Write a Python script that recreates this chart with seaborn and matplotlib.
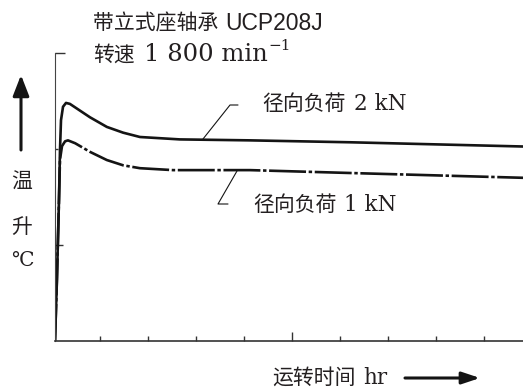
import numpy as np
import pandas as pd
import matplotlib
matplotlib.use("Agg")
import matplotlib.pyplot as plt
from matplotlib.transforms import Affine2D
from matplotlib.lines import Line2D
from matplotlib.patches import FancyArrowPatch
import seaborn as sns

# ---- data ----
t_2kn = [0, 0.04, 0.083, 0.104, 0.125, 0.167, 0.229, 0.31, 0.52, 0.73, 1.08, 1.42, 1.77, 2.6, 4.06, 6.15, 9.75]
v_2kn = [0, 0.64, 1.47, 1.99, 2.30, 2.44, 2.48, 2.47, 2.40, 2.33, 2.23, 2.17, 2.125, 2.10, 2.09, 2.07, 2.026]
t_1kn = [0, 0.04, 0.083, 0.104, 0.146, 0.21, 0.27, 0.42, 0.73, 1.08, 1.42, 1.77, 2.46, 4.06, 6.15, 9.75]
v_1kn = [0, 0.64, 1.47, 1.89, 2.03, 2.08, 2.09, 2.06, 1.97, 1.885, 1.83, 1.80, 1.78, 1.78, 1.75, 1.70]
series_names = ["径向负荷 2 kN", "径向负荷 1 kN"]
x_ticks = [0.94 + i for i in range(9)]
y_ticks = [1, 2, 3]

df = pd.DataFrame({
    "t": t_2kn + t_1kn,
    "v": v_2kn + v_1kn,
    "s": [series_names[0]] * len(t_2kn) + [series_names[1]] * len(t_1kn),
})

sns.set_style("white")
CJK = ["Noto Sans CJK SC", "DejaVu Sans"]
SERIF = ["DejaVu Serif"]
SANS = ["Liberation Sans"]
plt.rcParams["font.family"] = CJK
TC = "#231f20"
LC = "#141414"

W, H = 523, 388
fig = plt.figure(figsize=(W / 100, H / 100), dpi=100)
ax = fig.add_axes([55 / W, (H - 341) / H, 468 / W, 288 / H])

sns.lineplot(data=df, x="t", y="v", style="s", estimator=None, sort=False,
             dashes={series_names[0]: "", series_names[1]: (14, 1.0, 1.3, 1.0)},
             color=LC, lw=1.9, legend=False, ax=ax)

ax.set_xlim(0, 9.75)
ax.set_ylim(0, 3)
ax.set_xticks(x_ticks)
ax.set_yticks(y_ticks)
ax.set_xticklabels([])
ax.set_yticklabels([])
ax.set_xlabel("")
ax.set_ylabel("")
ax.tick_params(axis="both", which="major", direction="in", bottom=True, left=True,
               top=False, right=False, color="#333333", width=1.0, length=3.6)
ax.xaxis.get_major_ticks()[4].tick1line.set_markersize(6.5)
yt = ax.yaxis.get_major_ticks()
yt[0].tick1line.set_markersize(6.0)
yt[1].tick1line.set_markersize(2.0)
yt[2].tick1line.set_markersize(7.5)
for s in ["top", "right"]:
    ax.spines[s].set_visible(False)
ax.spines["left"].set_linewidth(0.8)
ax.spines["left"].set_color("#444444")
ax.spines["bottom"].set_linewidth(1.2)
ax.spines["bottom"].set_color("#333333")
ax.patch.set_alpha(0)

# image-pixel transform (origin top-left)
tr = Affine2D().scale(1, -1).translate(0, H)
renderer = fig.canvas.get_renderer()


def txt(x, y, s, fam=CJK, size=15, **kw):
    return fig.text(x, y, s, transform=tr, family=fam, fontsize=size, color=TC,
                    ha=kw.pop("ha", "left"), va=kw.pop("va", "baseline"), **kw)


def row(x, y, pieces):
    """pieces: (text, family, size, gap_before_px, raise_px)"""
    for s, fam, size, gap, rise in pieces:
        x += gap
        t = txt(x, y - rise, s, fam=fam, size=size)
        x = t.get_window_extent(renderer).x1
    return x


# title
row(93, 30, [("带立式座轴承", CJK, 15, 0, 0), ("UCP208J", SANS, 16.5, 7, 0)])
row(93, 61, [("转速", CJK, 15, 0, 0), ("1 800 min", SERIF, 17.5, 9, 0), ("−1", SERIF, 11, 1, 11)])

# series labels
row(262, 110, [("径向负荷", CJK, 15, 0, 0), ("2 kN", SERIF, 15.5, 8, 0)])
row(253, 211, [("径向负荷", CJK, 15, 0, 0), ("1 kN", SERIF, 15.5, 8, 0)])

# leader lines
fig.add_artist(Line2D([203, 230, 238], [139, 105, 105], transform=tr, color=LC, lw=0.8))
fig.add_artist(Line2D([237, 218, 228], [171, 204, 204], transform=tr, color=LC, lw=0.8))

# x label
row(272, 384, [("运转时间", CJK, 15, 0, 0), ("hr", SERIF, 15.5, 8, 0)])
# y label
txt(22, 182, "温", ha="center", va="center")
txt(22, 227, "升", ha="center", va="center")
txt(22, 260, "℃", fam=["DejaVu Serif", "Noto Sans CJK SC"], size=14.5, ha="center", va="center")

# arrows
fig.add_artist(FancyArrowPatch(
    (21, 150), (21, 75), transform=tr, arrowstyle="-|>,head_length=0.9,head_width=0.35",
    mutation_scale=14, lw=2.2, color=LC, shrinkA=0, shrinkB=0))
fig.add_artist(FancyArrowPatch(
    (405, 378), (480, 378), transform=tr, arrowstyle="-|>,head_length=0.9,head_width=0.3",
    mutation_scale=12, lw=2.2, color=LC, shrinkA=0, shrinkB=0))

fig.savefig("out.png", dpi=100)
